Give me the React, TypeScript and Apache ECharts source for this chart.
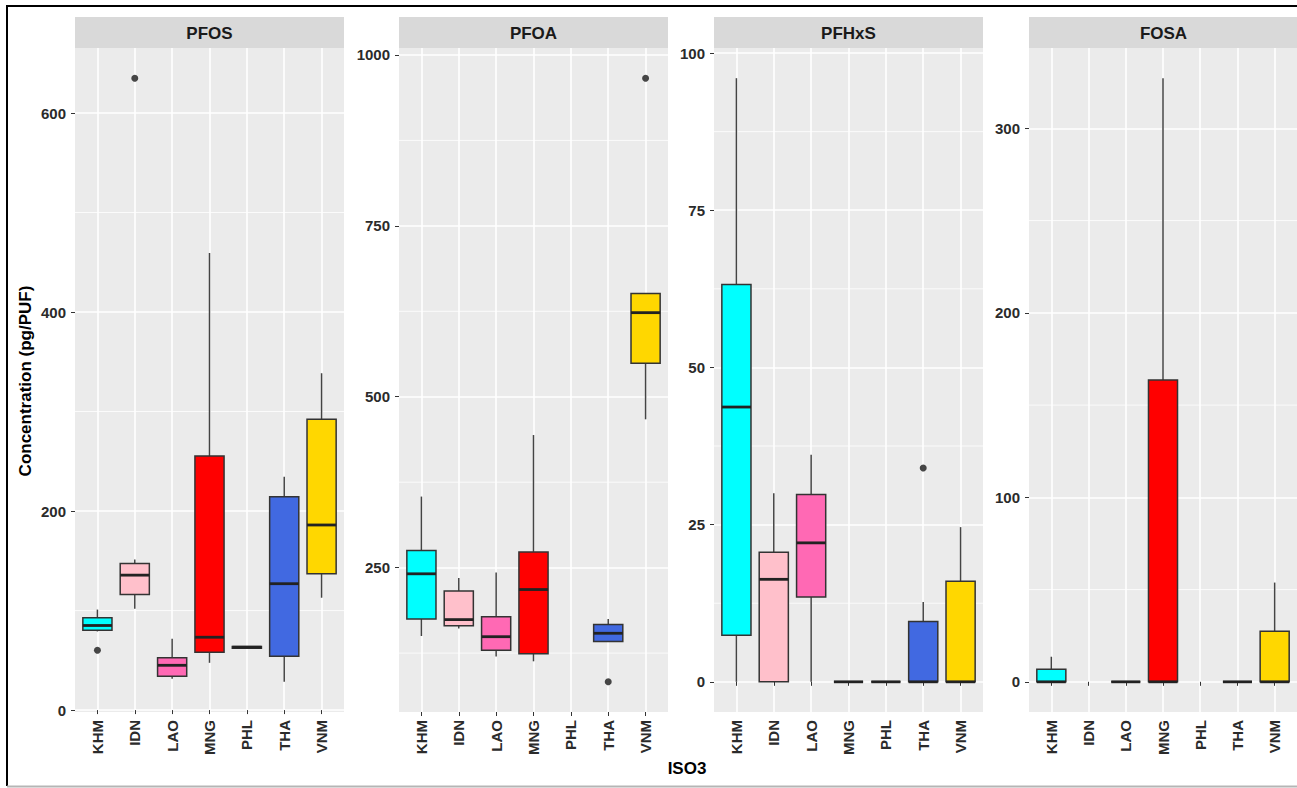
import React, { useEffect, useRef } from "react";
import * as echarts from "echarts";

// Countries (ISO3) on the x axis of every panel and their box fills
const countries = ["KHM", "IDN", "LAO", "MNG", "PHL", "THA", "VNM"];
const countryColors = ["#00FFFF", "#FFC0CB", "#FF69B4", "#FF0000", "#9ACD32", "#4169E1", "#FFD700"];

const compounds = ["PFOS", "PFOA", "PFHxS", "FOSA"];

// Box statistics per country: [lower whisker, Q1, median, Q3, upper whisker]; null = no data
type Stat = number[] | null;

const pfosStats: Stat[] = [
  [79, 80.3, 85, 92.8, 101],
  [101.8, 116.2, 135.6, 147.4, 151.4],
  [31.4, 34, 45, 52.5, 71.6],
  [47.5, 58.1, 73.2, 255.3, 459.3],
  [62, 62.2, 63.2, 64, 64],
  [28.4, 54.1, 127, 214.5, 234.6],
  [112.9, 137, 186, 292.3, 338.5],
];
const pfosOutliers = [
  [1, 60.2],
  [2, 635],
];

const pfoaStats: Stat[] = [
  [150, 175, 241, 275, 354],
  [161, 165, 174, 216, 235],
  [120, 129, 149, 178, 243],
  [113, 124, 218, 273, 444],
  null,
  [142, 142, 154, 167, 175],
  [467, 549, 623, 651, 651],
];
const pfoaOutliers = [
  [6, 83],
  [7, 966],
];

const pfhxsStats: Stat[] = [
  [0, 7.4, 43.7, 63.2, 96],
  [0, 0, 16.3, 20.6, 30],
  [0, 13.5, 22.1, 29.8, 36.1],
  [0, 0, 0, 0, 0],
  [0, 0, 0, 0, 0],
  [0, 0, 0, 9.6, 12.7],
  [0, 0, 0, 16, 24.6],
];
const pfhxsOutliers = [[6, 34]];

const fosaStats: Stat[] = [
  [0, 0, 0, 6.8, 13.6],
  null,
  [0, 0, 0, 0, 0],
  [0, 0, 0, 163.6, 327.2],
  null,
  [0, 0, 0, 0, 0],
  [0, 0, 0, 27.4, 53.8],
];
const fosaOutliers: number[][] = [];

// Axis breaks per panel
const pfosTicks = [0, 200, 400, 600];
const pfosMinor = [100, 300, 500];
const pfoaTicks = [250, 500, 750, 1000];
const pfoaMinor = [125, 375, 625, 875];
const pfhxsTicks = [0, 25, 50, 75, 100];
const pfhxsMinor = [12.5, 37.5, 62.5, 87.5];
const fosaTicks = [0, 100, 200, 300];
const fosaMinor = [50, 150, 250];

const panelStats = [pfosStats, pfoaStats, pfhxsStats, fosaStats];
const panelOutliers = [pfosOutliers, pfoaOutliers, pfhxsOutliers, fosaOutliers];
const panelTicks = [pfosTicks, pfoaTicks, pfhxsTicks, fosaTicks];
const panelMinor = [pfosMinor, pfoaMinor, pfhxsMinor, fosaMinor];

const FONT = "'Liberation Sans', Arial, Helvetica, sans-serif";
const panelLefts = [75, 399, 714, 1029];
const PANEL_W = 269;
const PANEL_TOP = 48;
const PANEL_H = 664;
const STRIP_TOP = 17;

// ggplot-style 5% expansion of the data range
function expandedRange(stats: Stat[], outliers: number[][]): [number, number] {
  const vals: number[] = [];
  stats.forEach((s) => s && vals.push(...s));
  outliers.forEach((o) => vals.push(o[1]));
  const lo = Math.min(...vals);
  const hi = Math.max(...vals);
  const pad = (hi - lo) * 0.05;
  return [lo - pad, hi + pad];
}

const catValues = countries.map((_, i) => i + 1);

function renderBox(params: any, api: any) {
  const x = api.value(0);
  const pMin = api.coord([x, api.value(1)]);
  const cx = pMin[0];
  const yMin = pMin[1];
  const yQ1 = api.coord([x, api.value(2)])[1];
  const yMed = api.coord([x, api.value(3)])[1];
  const yQ3 = api.coord([x, api.value(4)])[1];
  const yMax = api.coord([x, api.value(5)])[1];
  const w = api.size([0.78, 0])[0];
  const fill = countryColors[Math.round(x) - 1];
  return {
    type: "group",
    children: [
      { type: "line", shape: { x1: cx, y1: yMax, x2: cx, y2: yQ3 }, style: { stroke: "#444444", lineWidth: 1.5 } },
      { type: "line", shape: { x1: cx, y1: yQ1, x2: cx, y2: yMin }, style: { stroke: "#444444", lineWidth: 1.5 } },
      {
        type: "rect",
        shape: { x: cx - w / 2, y: yQ3, width: w, height: Math.max(yQ1 - yQ3, 0) },
        style: { fill, stroke: "#333333", lineWidth: 1.5 },
      },
      {
        type: "line",
        shape: { x1: cx - w / 2, y1: yMed, x2: cx + w / 2, y2: yMed },
        style: { stroke: "#222222", lineWidth: 2.8 },
      },
    ],
  };
}

function renderMinor(params: any, api: any) {
  const y = api.coord([4, api.value(1)])[1];
  const cs = params.coordSys;
  return {
    type: "line",
    shape: { x1: cs.x, y1: y, x2: cs.x + cs.width, y2: y },
    style: { stroke: "#FFFFFF", lineWidth: 0.8 },
  };
}

export default function App() {
  const ref = useRef<HTMLDivElement>(null);

  useEffect(() => {
    if (!ref.current) return;
    const chart = echarts.init(ref.current, null, { renderer: "svg" });

    const grids = compounds.map((_, i) => ({
      left: panelLefts[i],
      top: PANEL_TOP,
      width: PANEL_W,
      height: PANEL_H,
      show: true,
      backgroundColor: "#EBEBEB",
      borderWidth: 0,
    }));

    const xAxes = compounds.map((_, i) => ({
      type: "value",
      gridIndex: i,
      min: 0.4,
      max: 7.6,
      axisLine: { show: false },
      axisTick: { show: true, length: 4, customValues: catValues, lineStyle: { color: "#333333", width: 1 } },
      axisLabel: {
        customValues: catValues,
        rotate: 90,
        margin: 8,
        formatter: (v: number) => countries[Math.round(v) - 1] ?? "",
        fontFamily: FONT,
        fontSize: 15,
        fontWeight: "bold",
        color: "#2b2b2b",
      },
      splitLine: { show: true, lineStyle: { color: "#FFFFFF", width: 1.6 } },
    }));

    const yAxes = compounds.map((_, i) => {
      const [lo, hi] = expandedRange(panelStats[i], panelOutliers[i]);
      return {
        type: "value",
        gridIndex: i,
        min: lo,
        max: hi,
        axisLine: { show: false },
        axisTick: { show: true, length: 4, customValues: panelTicks[i], lineStyle: { color: "#333333", width: 1 } },
        axisLabel: {
          customValues: panelTicks[i],
          margin: 9,
          formatter: (v: number) => String(v),
          fontFamily: FONT,
          fontSize: 15,
          fontWeight: "bold",
          color: "#2b2b2b",
        },
        splitLine: { show: true, lineStyle: { color: "#FFFFFF", width: 1.6 } },
      };
    });

    const series: any[] = [];
    compounds.forEach((name, i) => {
      series.push({
        type: "custom",
        name: name + " minor grid",
        xAxisIndex: i,
        yAxisIndex: i,
        silent: true,
        z: 1,
        encode: { x: 0, y: 1 },
        data: panelMinor[i].map((v) => [4, v]),
        renderItem: renderMinor,
      });
      series.push({
        type: "custom",
        name,
        xAxisIndex: i,
        yAxisIndex: i,
        z: 3,
        encode: { x: 0, y: [1, 2, 3, 4, 5] },
        data: panelStats[i]
          .map((s, k) => (s ? [k + 1, ...s] : null))
          .filter((d) => d !== null),
        renderItem: renderBox,
      });
      series.push({
        type: "scatter",
        name: name + " outliers",
        xAxisIndex: i,
        yAxisIndex: i,
        z: 4,
        symbol: "circle",
        symbolSize: 7,
        itemStyle: { color: "#1a1a1a" },
        data: panelOutliers[i],
      });
    });

    const graphic: any[] = [];
    compounds.forEach((name, i) => {
      graphic.push({
        type: "rect",
        shape: { x: panelLefts[i], y: STRIP_TOP, width: PANEL_W, height: PANEL_TOP - STRIP_TOP },
        style: { fill: "#D9D9D9" },
        silent: true,
      });
      graphic.push({
        type: "text",
        x: panelLefts[i] + PANEL_W / 2,
        y: (STRIP_TOP + PANEL_TOP) / 2 + 1,
        style: {
          text: name,
          align: "center",
          verticalAlign: "middle",
          fontFamily: FONT,
          fontSize: 17,
          fontWeight: "bold",
          fill: "#1a1a1a",
        },
        silent: true,
      });
    });
    graphic.push({
      type: "text",
      x: 25,
      y: 381,
      rotation: Math.PI / 2,
      style: {
        text: "Concentration (pg/PUF)",
        align: "center",
        verticalAlign: "middle",
        fontFamily: FONT,
        fontSize: 17,
        fontWeight: "bold",
        fill: "#000000",
      },
      silent: true,
    });
    graphic.push({
      type: "text",
      x: 687,
      y: 768,
      style: {
        text: "ISO3",
        align: "center",
        verticalAlign: "middle",
        fontFamily: FONT,
        fontSize: 17,
        fontWeight: "bold",
        fill: "#000000",
      },
      silent: true,
    });
    // Outer frame
    graphic.push({
      type: "polyline",
      shape: { points: [[7, 786], [7, 6], [1297, 6]] },
      style: { stroke: "#000000", lineWidth: 2, fill: "none" },
      silent: true,
    });
    graphic.push({
      type: "line",
      shape: { x1: 7, y1: 786.5, x2: 1297, y2: 786.5 },
      style: { stroke: "#B5B5B5", lineWidth: 2 },
      silent: true,
    });

    chart.setOption({
      animation: false,
      backgroundColor: "#FFFFFF",
      grid: grids,
      xAxis: xAxes,
      yAxis: yAxes,
      series,
      graphic,
    });

    return () => chart.dispose();
  }, []);

  return (
    <div
      ref={ref}
      style={{ position: "absolute", left: 0, top: 0, width: 1297, height: 788 }}
    />
  );
}
